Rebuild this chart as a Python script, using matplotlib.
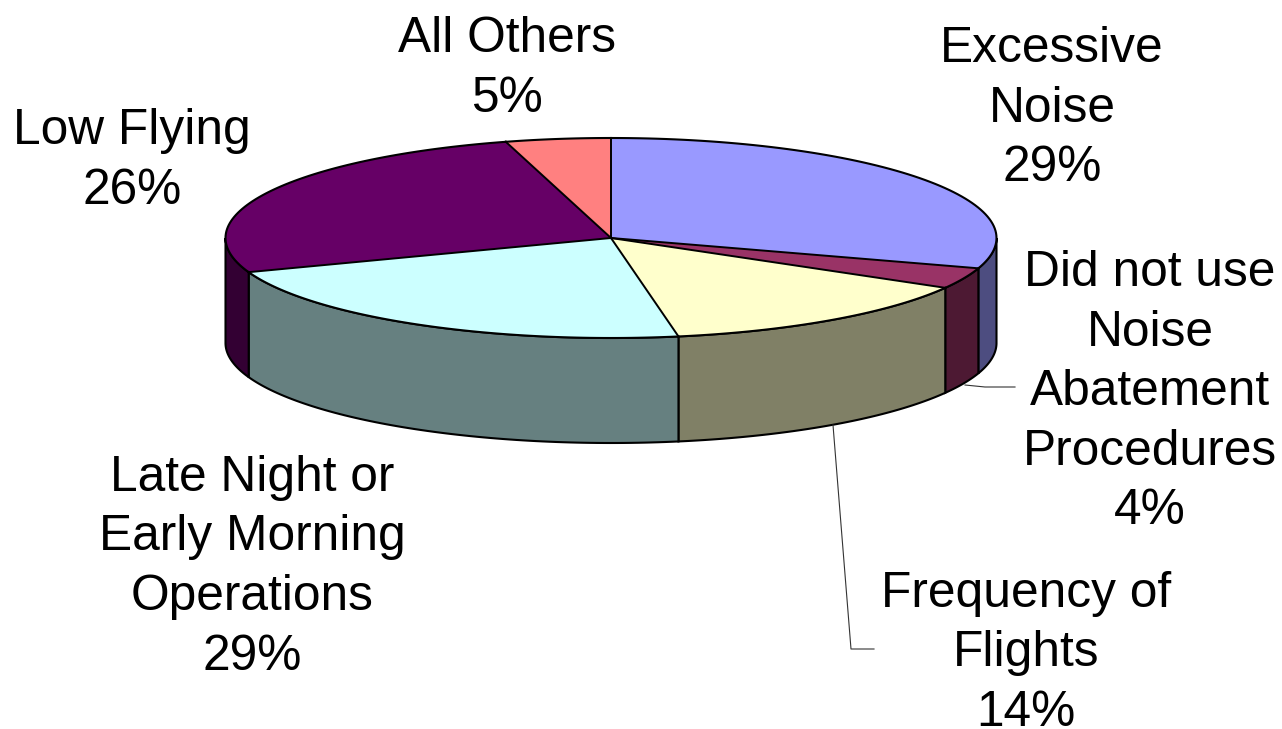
import numpy as np
import matplotlib
matplotlib.use("Agg")
import matplotlib.pyplot as plt
from matplotlib.patches import Polygon, Wedge
from matplotlib.transforms import Affine2D

plt.rcParams['font.family'] = ['Liberation Sans', 'DejaVu Sans']

# Label text and percentages as printed on the chart
categories = ["Excessive\nNoise", "Did not use\nNoise\nAbatement\nProcedures", "Frequency of\nFlights",
              "Late Night or\nEarly Morning\nOperations", "Low Flying", "All Others"]
percent_labels = ["29%", "4%", "14%", "29%", "26%", "5%"]

# Slice shares as drawn (the tilted view squeezes the printed percentages)
shares = [29.9, 3.4, 13.9, 22.25, 26.15, 4.4]

top_colors = ["#9999FF", "#993366", "#FFFFCC", "#CCFFFF", "#660066", "#FF8080"]
side_colors = ["#4D4D80", "#4D1933", "#808066", "#668080", "#330033", "#804040"]

# centre x, top of first line
label_xy = [(1052, 26), (1150, 250), (1026, 571), (252, 455), (132, 108), (507, 16)]

cx, cy = 611, 238
rx, ry = 385.5, 100
depth = 105

fig = plt.figure(figsize=(12.82, 7.29), dpi=100)
ax = fig.add_axes([0, 0, 1, 1])
ax.set_xlim(0, 1282)
ax.set_ylim(729, 0)
ax.axis('off')


def rim(a0, a1):
    # angles clockwise from the top of the pie, in degrees
    t = np.radians(np.linspace(a0, a1, 80))
    return cx + rx * np.sin(t), cy - ry * np.cos(t)


edges = np.cumsum([0] + shares) / sum(shares) * 360

# side walls, only the front half of the pie shows
for i in range(len(shares)):
    a0, a1 = max(edges[i], 90), min(edges[i + 1], 270)
    if a1 <= a0:
        continue
    x, y = rim(a0, a1)
    pts = np.vstack([np.column_stack([x, y]), np.column_stack([x[::-1], y[::-1] + depth])])
    ax.add_patch(Polygon(pts, closed=True, facecolor=side_colors[i], edgecolor='black', linewidth=1.5))

# top face, unit wedges squashed into the ellipse
squash = Affine2D().scale(rx, ry).translate(cx, cy) + ax.transData
for i in range(len(shares)):
    # y axis is inverted here, so wedge angles run clockwise on screen
    ax.add_patch(Wedge((0, 0), 1, edges[i] - 90, edges[i + 1] - 90, facecolor=top_colors[i],
                       edgecolor='none', transform=squash))
    x, y = rim(edges[i], edges[i + 1])
    ax.plot(x, y, color='black', lw=1.5)
    x0, y0 = rim(edges[i], edges[i])
    ax.plot([cx, x0[0]], [cy, y0[0]], color='black', lw=1.4)

# leader lines
ax.plot([965, 985, 1015], [385, 387, 387], color='#333333', lw=0.8)
ax.plot([833, 851, 874], [425, 649, 649], color='#333333', lw=0.8)

# labels
for (x, y), name, pct in zip(label_xy, categories, percent_labels):
    ax.text(x, y, name + "\n" + pct, ha='center', va='top',
            fontsize=35.7, color='black', linespacing=1.375)

fig.savefig("out.png", dpi=100)
